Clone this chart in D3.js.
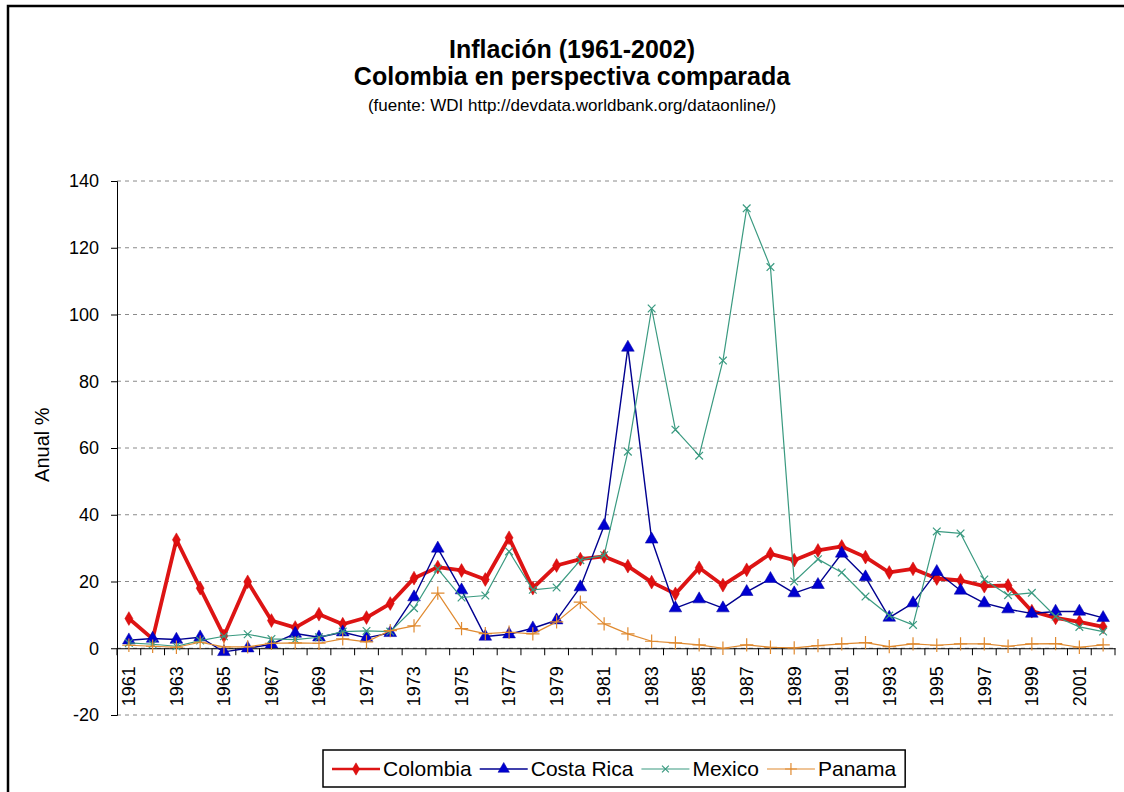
<!DOCTYPE html>
<html><head><meta charset="utf-8">
<script src="https://cdn.jsdelivr.net/npm/d3@7"></script>
<style>body{margin:0;background:#fff}svg{display:block;font-family:"Liberation Sans",Arial,sans-serif}</style>
</head><body>
<svg id="c" width="1124" height="792"></svg>
<script>
const years = ["1961","1962","1963","1964","1965","1966","1967","1968","1969","1970","1971","1972","1973","1974","1975","1976","1977","1978","1979","1980","1981","1982","1983","1984","1985","1986","1987","1988","1989","1990","1991","1992","1993","1994","1995","1996","1997","1998","1999","2000","2001","2002"];
const colombia = [8.9,2.8,32.5,18.0,3.7,19.9,8.3,6.2,10.2,7.2,9.2,13.4,21.0,24.3,23.3,20.6,33.1,18.0,24.8,26.7,27.5,24.6,19.8,16.3,24.1,18.9,23.5,28.3,26.4,29.3,30.5,27.3,22.7,23.8,20.9,20.3,18.6,18.8,11.1,9.1,7.9,6.4];
const costaRica = [2.4,2.9,2.6,3.3,-1.1,0.0,1.2,4.4,3.3,4.8,3.1,4.6,15.3,29.9,17.4,3.5,4.2,6.0,8.4,18.3,36.7,90.1,32.6,12.0,14.7,12.0,16.9,20.8,16.5,19.0,28.4,21.3,9.2,13.5,22.9,17.3,13.5,11.7,10.4,11.0,11.0,9.1];
const mexico = [1.6,1.2,0.6,2.3,3.6,4.2,2.8,2.6,3.3,5.0,5.2,5.0,12.0,23.8,15.2,15.8,29.0,17.5,18.2,26.4,27.9,58.9,101.8,65.5,57.7,86.2,131.8,114.2,20.0,26.7,22.7,15.5,9.8,7.0,35.0,34.4,20.6,15.9,16.6,9.5,6.4,5.0];
const panama = [0.9,0.6,0.3,1.8,0.4,0.4,1.5,1.6,1.5,2.8,1.9,5.3,6.7,16.5,5.9,4.4,4.8,4.3,7.9,13.8,7.3,4.3,2.1,1.6,1.0,0.0,1.0,0.3,0.1,0.8,1.3,1.7,0.5,1.3,0.9,1.3,1.3,0.6,1.3,1.4,0.3,1.0];
const seriesNames = ["Colombia","Costa Rica","Mexico","Panama"];
const yTicks = [-20,0,20,40,60,80,100,120,140];
const titleText = "Inflación (1961-2002)";
const subtitleText = "Colombia en perspectiva comparada";
const sourceText = "(fuente: WDI http://devdata.worldbank.org/dataonline/)";
const yLabel = "Anual %";

const svg = d3.select("#c");
svg.append("rect").attr("x",0).attr("y",0).attr("width",1124).attr("height",792).attr("fill","#fff");
svg.append("rect").attr("x",8).attr("y",6).attr("width",1160).attr("height",840)
  .attr("fill","none").attr("stroke","#000").attr("stroke-width",2.5);

const L = 117, R = 1115, T = 181, B = 715;
const x = d3.scaleBand().domain(years).range([L, R]);
const y = d3.scaleLinear().domain([-20, 140]).range([B, T]);

// grid
svg.append("g").selectAll("line").data(yTicks).join("line")
  .attr("x1", L).attr("x2", R).attr("y1", d => y(d)).attr("y2", d => y(d))
  .attr("stroke", "#8a8a8a").attr("stroke-width", 1).attr("stroke-dasharray", "4,4");

// y axis
const yAxis = d3.axisLeft(y).tickValues(yTicks).tickSize(6).tickPadding(12).tickFormat(d => String(d));
const gy = svg.append("g").attr("transform", `translate(${L},0)`).call(yAxis);
gy.select(".domain").attr("stroke","#000");
gy.selectAll(".tick line").attr("stroke","#000");
gy.selectAll("text").attr("font-size", 18).attr("fill","#000").attr("font-family","Liberation Sans, Arial, sans-serif");

// x axis at 0
const xAxis = d3.axisBottom(x).tickSize(0).tickFormat((d,i) => i % 2 === 0 ? d : "");
const gx = svg.append("g").attr("transform", `translate(0,${y(0)})`).call(xAxis);
gx.select(".domain").attr("stroke","#000");
gx.selectAll(".tick text")
  .attr("transform", "rotate(-90)")
  .attr("text-anchor","end")
  .attr("x", -18).attr("y", 0).attr("dy", "0.35em")
  .attr("font-size", 18).attr("fill","#000").attr("font-family","Liberation Sans, Arial, sans-serif");
// boundary ticks
const bounds = years.map(d => x(d)).concat([R]);
svg.append("g").selectAll("line").data(bounds).join("line")
  .attr("x1", d => d).attr("x2", d => d).attr("y1", y(0)).attr("y2", y(0) + 7)
  .attr("stroke", "#000").attr("stroke-width", 1);

// titles
const cx = 572;
svg.append("text").attr("x", cx).attr("y", 58).attr("text-anchor","middle")
  .attr("font-size", 25).attr("font-weight","bold").text(titleText);
svg.append("text").attr("x", cx).attr("y", 85).attr("text-anchor","middle")
  .attr("font-size", 25).attr("font-weight","bold").text(subtitleText);
svg.append("text").attr("x", cx).attr("y", 111).attr("text-anchor","middle")
  .attr("font-size", 17).text(sourceText);
svg.append("text").attr("transform", `translate(49,${y(61)}) rotate(-90)`).attr("text-anchor","middle")
  .attr("font-size", 20).text(yLabel);

const cxp = d => x(d) + x.bandwidth() / 2;
const styles = [
  {data: colombia, color: "#dd1414", width: 3.8, sym: d3.symbolDiamond, size: 55, fill: "#e01010", stroke: "#c00"},
  {data: costaRica, color: "#000090", width: 1.4, sym: d3.symbolTriangle, size: 70, fill: "#0000d0", stroke: "#0000a0"},
  {data: mexico, color: "#3a9a80", width: 1.2, sym: d3.symbolTimes, size: 40, fill: "none", stroke: "#3a9a80"},
  {data: panama, color: "#e08a30", width: 1.2, sym: d3.symbolPlus, size: 60, fill: "none", stroke: "#e08a30"}
];
const line = d3.line().x((d, i) => cxp(years[i])).y(d => y(d));
styles.forEach(s => {
  svg.append("path").datum(s.data).attr("d", line).attr("fill","none")
    .attr("stroke", s.color).attr("stroke-width", s.width).attr("stroke-linejoin","round");
  svg.append("g").selectAll("path").data(s.data).join("path")
    .attr("transform", (d, i) => `translate(${cxp(years[i])},${y(d)})`)
    .attr("d", d3.symbol(s.sym, s.size)())
    .attr("fill", s.fill).attr("stroke", s.stroke).attr("stroke-width", s.fill === "none" ? 1.2 : 0.5);
});

// legend
const lg = svg.append("g");
const lgBox = lg.append("rect").attr("y", 750).attr("height", 37).attr("fill","#fff")
  .attr("stroke","#000").attr("stroke-width",1.5);
let lx = 332;
styles.forEach((s, i) => {
  lg.append("line").attr("x1", lx).attr("x2", lx + 48).attr("y1", 769).attr("y2", 769)
    .attr("stroke", s.color).attr("stroke-width", Math.min(s.width, 2.5));
  lg.append("path").attr("transform", `translate(${lx + 24},769)`)
    .attr("d", d3.symbol(s.sym, s.size * 0.8)())
    .attr("fill", s.fill).attr("stroke", s.stroke).attr("stroke-width", s.fill === "none" ? 1.2 : 0.5);
  const t = lg.append("text").attr("x", lx + 51).attr("y", 776).attr("font-size", 21).text(seriesNames[i]);
  lx += 51 + t.node().getComputedTextLength() + 8;
});
lgBox.attr("x", 323).attr("width", lx - 323 + 1);
</script>
</body></html>
